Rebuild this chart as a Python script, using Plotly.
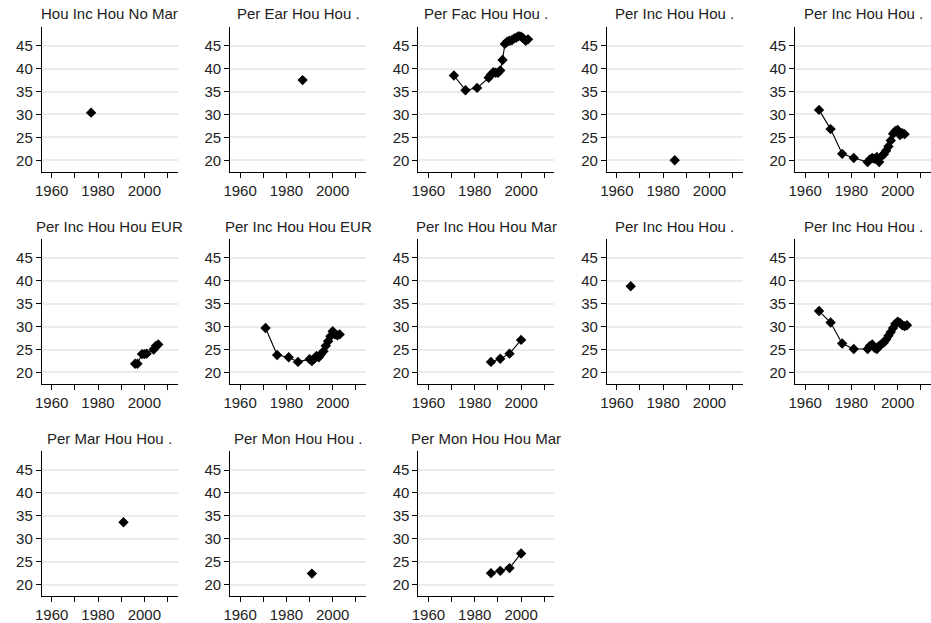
import plotly.graph_objects as go

W, H = 931, 623

titles = [
    "Hou Inc Hou No Mar", "Per Ear Hou Hou .", "Per Fac Hou Hou .", "Per Inc Hou Hou .", "Per Inc Hou Hou .",
    "Per Inc Hou Hou EUR", "Per Inc Hou Hou EUR", "Per Inc Hou Hou Mar", "Per Inc Hou Hou .", "Per Inc Hou Hou .",
    "Per Mar Hou Hou .", "Per Mon Hou Hou .", "Per Mon Hou Hou Mar",
]

years_01 = [1977]
vals_01 = [30.4]

years_02 = [1987]
vals_02 = [37.5]

years_03 = [1971, 1976, 1981, 1986, 1987, 1988, 1989, 1990, 1991, 1992, 1993, 1994,
            1995, 1996, 1997, 1998, 1999, 2000, 2001, 2002, 2003]
vals_03 = [38.5, 35.3, 35.8, 38.0, 38.7, 39.2, 39.1, 39.1, 39.6, 41.9, 45.4, 45.9,
           46.1, 46.2, 46.6, 46.8, 47.1, 47.0, 46.6, 46.1, 46.4]

years_04 = [1985]
vals_04 = [20.0]

years_05 = [1966, 1971, 1976, 1981, 1987, 1988, 1989, 1990, 1991, 1992, 1993, 1994,
            1995, 1996, 1997, 1998, 1999, 2000, 2001, 2002, 2003]
vals_05 = [31.0, 26.8, 21.4, 20.5, 19.6, 20.2, 20.5, 20.3, 20.7, 19.6, 20.9, 21.3,
           22.1, 23.0, 24.3, 25.8, 26.4, 26.6, 25.5, 25.9, 25.7]

years_06 = [1996, 1997, 1999, 2000, 2001, 2004, 2005, 2006]
vals_06 = [21.9, 21.9, 24.0, 24.0, 24.1, 25.0, 25.8, 26.1]

years_07 = [1971, 1976, 1981, 1985, 1990, 1991, 1992, 1993, 1994, 1995, 1996, 1997,
            1998, 1999, 2000, 2001, 2002, 2003]
vals_07 = [29.7, 23.8, 23.3, 22.3, 22.9, 22.5, 23.0, 23.6, 23.3, 24.0, 24.6, 25.8,
           26.8, 27.9, 29.0, 28.3, 28.1, 28.3]

years_08 = [1987, 1991, 1995, 2000]
vals_08 = [22.3, 23.0, 24.1, 27.1]

years_09 = [1966]
vals_09 = [38.8]

years_10 = [1966, 1971, 1976, 1981, 1987, 1988, 1989, 1990, 1991, 1992, 1993, 1994,
            1995, 1996, 1997, 1998, 1999, 2000, 2001, 2002, 2003, 2004]
vals_10 = [33.4, 30.9, 26.3, 25.1, 25.1, 25.8, 26.1, 25.4, 25.1, 25.8, 26.2, 26.5,
           27.2, 28.0, 28.8, 29.7, 30.6, 31.1, 30.8, 30.3, 30.1, 30.3]

years_11 = [1991]
vals_11 = [33.6]

years_12 = [1991]
vals_12 = [22.4]

years_13 = [1987, 1991, 1995, 2000]
vals_13 = [22.5, 23.0, 23.6, 26.8]

series = [
    (years_01, vals_01), (years_02, vals_02), (years_03, vals_03), (years_04, vals_04),
    (years_05, vals_05), (years_06, vals_06), (years_07, vals_07), (years_08, vals_08),
    (years_09, vals_09), (years_10, vals_10), (years_11, vals_11), (years_12, vals_12),
    (years_13, vals_13),
]

x_tickvals = [1960, 1970, 1980, 1990, 2000, 2010]
x_ticktext = ["1960", "", "1980", "", "2000", ""]
y_tickvals = [20, 25, 30, 35, 40, 45]
x_range = [1955.7, 2014.4]
y_range = [17.5, 49.1]

fig = go.Figure()
font_family = "Liberation Sans, Arial, sans-serif"
layout = dict(
    width=W, height=H, margin=dict(l=0, r=0, t=0, b=0),
    paper_bgcolor="white", plot_bgcolor="white", showlegend=False,
    font=dict(family=font_family, size=15, color="#222"),
    annotations=[],
)

col_left0, col_step, pw = 35, 189.8, 137
row_top0, row_step, ph = 27, 212.5, 145

for i, ((xs, ys), title) in enumerate(zip(series, titles)):
    r, c = divmod(i, 5)
    left = col_left0 + col_step * c
    top = row_top0 + row_step * r
    xd = [left / W, min((left + pw) / W, 1.0)]
    yd = [1 - (top + ph) / H, 1 - top / H]
    n = i + 1
    xa = "x" if n == 1 else f"x{n}"
    ya = "y" if n == 1 else f"y{n}"
    fig.add_trace(go.Scatter(
        x=xs, y=ys, mode="lines+markers", xaxis=xa, yaxis=ya,
        line=dict(color="black", width=1.1),
        marker=dict(symbol="diamond", size=8, color="black"),
    ))
    xkey = "xaxis" if n == 1 else f"xaxis{n}"
    ykey = "yaxis" if n == 1 else f"yaxis{n}"
    layout[xkey] = dict(
        domain=xd, anchor=ya, range=x_range, tickmode="array",
        tickvals=x_tickvals, ticktext=x_ticktext, ticks="outside", ticklen=5,
        tickcolor="black", showline=True, linecolor="black", linewidth=1,
        showgrid=False, zeroline=False, tickfont=dict(size=15, color="#222"),
        fixedrange=True,
    )
    layout[ykey] = dict(
        domain=yd, anchor=xa, range=y_range, tickmode="array",
        tickvals=y_tickvals, ticks="outside", ticklen=5, tickcolor="black",
        showline=True, linecolor="black", linewidth=1, showgrid=True,
        gridcolor="#ebebeb", gridwidth=1.5, zeroline=False,
        tickfont=dict(size=15, color="#222"), fixedrange=True,
    )
    layout["annotations"].append(dict(
        text=title, x=(left + pw / 2) / W, y=1 - (top - 13) / H,
        xref="paper", yref="paper", xanchor="center", yanchor="middle",
        showarrow=False, font=dict(size=15, color="#222"),
    ))

fig.update_layout(**layout)
fig.write_html(
    "out.html",
    config={"displayModeBar": False},
    post_script="document.body.style.margin='0';document.body.style.overflow='hidden';",
)
